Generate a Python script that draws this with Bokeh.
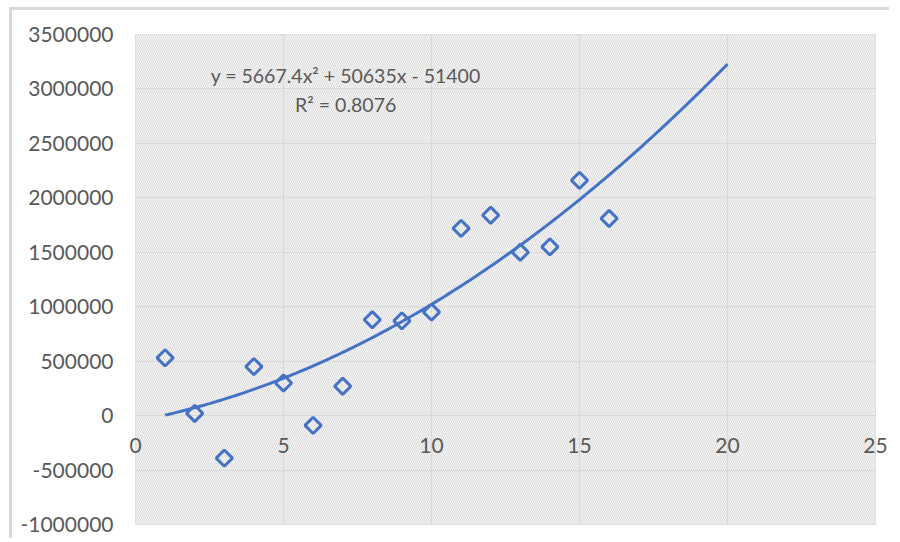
import numpy as np
from bokeh.plotting import figure
from bokeh.models import (BoxAnnotation, Label, FixedTicker, Range1d, BasicTickFormatter)
from bokeh.embed import file_html
from bokeh.resources import INLINE

# data
x_vals = [1, 2, 3, 4, 5, 6, 7, 8, 9, 10, 11, 12, 13, 14, 15, 16]
y_vals = [530000, 20000, -390000, 450000, 300000, -90000, 270000, 880000,
          870000, 950000, 1720000, 1840000, 1500000, 1550000, 2160000, 1810000]
# trendline coefficients as shown on chart
coef_a = 5667.4
coef_b = 50635
coef_c = -51400
trend_x_start = 1
trend_x_end = 20
x_ticks = [0, 5, 10, 15, 20, 25]
y_ticks = [-1000000, -500000, 0, 500000, 1000000, 1500000, 2000000, 2500000, 3000000, 3500000]
y_tick_labels = ["-1000000", "-500000", "0", "500000", "1000000", "1500000",
                 "2000000", "2500000", "3000000", "3500000"]
eq_text = "y = 5667.4x\u00b2 + 50635x - 51400"
r2_text = "R\u00b2 = 0.8076"

BLUE = "#4472C4"
GRAY_TXT = "#595959"
FONT = "Lato"

p = figure(width=880, height=531, output_backend="svg", toolbar_location=None,
           x_range=Range1d(0, 25), y_range=Range1d(-1000000, 3500000),
           min_border_left=123, min_border_top=24, min_border_right=17, min_border_bottom=17,
           background_fill_color="#f5f5f5", border_fill_color="white",
           outline_line_color="#d9d9d9",
           styles={"margin-left": "9px", "margin-top": "7px",
                   "border-left": "3px solid #d9d9d9", "border-top": "3px solid #d9d9d9"})

bg = BoxAnnotation(fill_color="#f5f5f5", fill_alpha=1.0, line_color=None,
                   hatch_pattern="\\", hatch_color="#dcdcdc", hatch_scale=4,
                   hatch_weight=1, hatch_alpha=1.0, level="image")
p.add_layout(bg)

p.xgrid.ticker = FixedTicker(ticks=x_ticks)
p.ygrid.ticker = FixedTicker(ticks=y_ticks)
p.xgrid.grid_line_color = "#d9d9d9"
p.ygrid.grid_line_color = "#d9d9d9"
p.xgrid.grid_line_width = 1.2
p.ygrid.grid_line_width = 1.2

p.xaxis.ticker = FixedTicker(ticks=x_ticks)
p.yaxis.ticker = FixedTicker(ticks=y_ticks)
p.yaxis.formatter = BasicTickFormatter(use_scientific=False)
p.yaxis.major_label_overrides = {t: s for t, s in zip(y_ticks, y_tick_labels)}
for ax in (p.xaxis, p.yaxis):
    ax.axis_line_color = None
    ax.major_tick_line_color = None
    ax.minor_tick_line_color = None
    ax.major_tick_out = 0
    ax.major_tick_in = 0
    ax.major_label_text_font = FONT
    ax.major_label_text_font_size = "21px"
    ax.major_label_text_color = GRAY_TXT
p.yaxis.major_label_standoff = 22
# x labels sit just under the zero line, as in the reference
p.xaxis.major_label_standoff = -87

tx = np.linspace(trend_x_start, trend_x_end, 200)
ty = coef_a * tx**2 + coef_b * tx + coef_c
p.line(tx, ty, line_color=BLUE, line_width=3)

p.scatter(x_vals, y_vals, marker="square", angle=45, angle_units="deg", size=11.5,
          fill_color=None, line_color=BLUE, line_width=3)

p.add_layout(Label(x=7.1, y=3125000, text=eq_text, text_align="center", text_baseline="middle",
                   text_font=FONT, text_font_size="19.5px", text_color=GRAY_TXT))
p.add_layout(Label(x=7.1, y=2860000, text=r2_text, text_align="center", text_baseline="middle",
                   text_font=FONT, text_font_size="19.5px", text_color=GRAY_TXT))

open("out.html", "w").write(file_html(p, INLINE))
